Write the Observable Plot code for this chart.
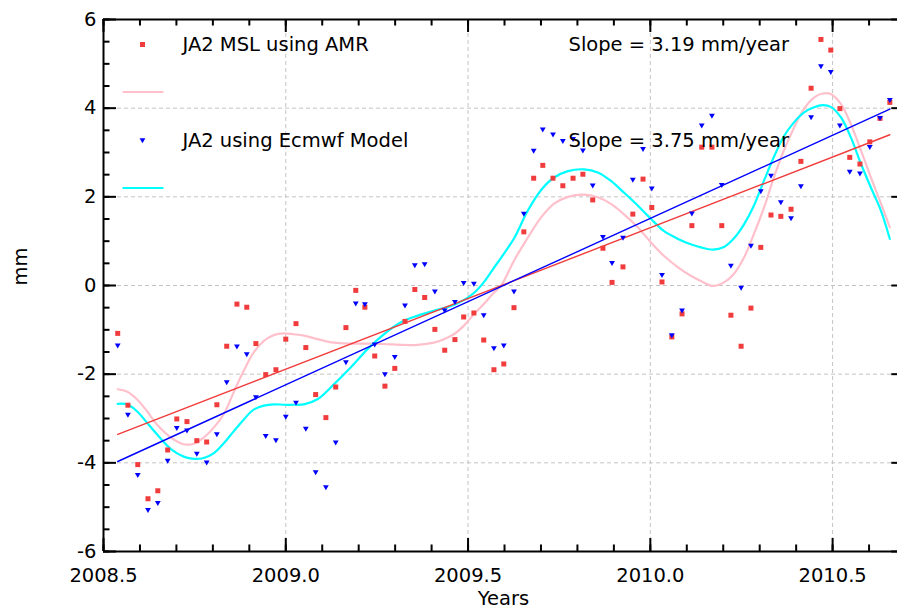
<!DOCTYPE html>
<html>
<head>
<meta charset="utf-8">
<script src="https://cdn.jsdelivr.net/npm/d3@7"></script>
<script src="https://cdn.jsdelivr.net/npm/@observablehq/plot@0.6"></script>
<style>
  html, body { margin: 0; padding: 0; background: white; }
  #chart svg { display: block; }
</style>
</head>
<body>
<div id="chart"></div>
<script>
// ---- data ----
const cycleYears = [2008.539, 2008.567, 2008.594, 2008.622, 2008.649, 2008.676, 2008.701, 2008.729, 2008.756, 2008.783,
  2008.811, 2008.838, 2008.866, 2008.893, 2008.918, 2008.945, 2008.973, 2009.000, 2009.028, 2009.055,
  2009.082, 2009.110, 2009.137, 2009.165, 2009.192, 2009.217, 2009.244, 2009.272, 2009.299, 2009.327,
  2009.354, 2009.381, 2009.409, 2009.436, 2009.464, 2009.488, 2009.516, 2009.543, 2009.571, 2009.598,
  2009.626, 2009.653, 2009.680, 2009.705, 2009.733, 2009.760, 2009.788, 2009.815, 2009.842, 2009.870,
  2009.895, 2009.925, 2009.952, 2009.980, 2010.004, 2010.032, 2010.059, 2010.087, 2010.114, 2010.141,
  2010.169, 2010.196, 2010.221, 2010.249, 2010.276, 2010.303, 2010.331, 2010.358, 2010.386, 2010.413,
  2010.441, 2010.468, 2010.495, 2010.520, 2010.547, 2010.575, 2010.602, 2010.630, 2010.657];

const amrValues = [-1.08, -2.70, -4.04, -4.81, -4.63, -3.71, -3.01, -3.07, -3.50, -3.53,
  -2.69, -1.37, -0.42, -0.49, -1.31, -2.01, -1.90, -1.21, -0.86, -1.40,
  -2.46, -2.98, -2.29, -0.95, -0.11, -0.49, -1.59, -2.27, -1.87, -0.81,
  -0.09, -0.27, -0.99, -1.46, -1.22, -0.71, -0.62, -1.23, -1.90, -1.77,
  -0.50, 1.21, 2.42, 2.71, 2.42, 2.25, 2.42, 2.51, 1.93, 0.84,
  0.07, 0.42, 1.61, 2.40, 1.76, 0.08, -1.16, -0.64, 1.35, 3.12,
  3.12, 1.35, -0.67, -1.37, -0.51, 0.86, 1.59, 1.56, 1.72, 2.80,
  4.45, 5.55, 5.31, 3.99, 2.89, 2.74, 3.24, 3.77, 4.13];

const ecmwfValues = [-1.36, -2.92, -4.28, -5.07, -4.91, -3.96, -3.22, -3.28, -3.80, -4.00,
  -3.36, -2.19, -1.38, -1.56, -2.53, -3.40, -3.50, -2.97, -2.65, -3.24,
  -4.22, -4.56, -3.55, -1.74, -0.41, -0.43, -1.34, -2.01, -1.62, -0.46,
  0.45, 0.47, -0.14, -0.57, -0.38, 0.05, 0.03, -0.68, -1.42, -1.36,
  -0.14, 1.61, 3.03, 3.51, 3.40, 3.25, 3.30, 3.04, 2.25, 1.09,
  0.50, 1.07, 2.38, 3.07, 2.18, 0.23, -1.13, -0.57, 1.62, 3.60,
  3.82, 2.26, 0.44, -0.06, 0.89, 2.12, 2.47, 1.87, 1.51, 2.23,
  3.79, 4.94, 4.81, 3.60, 2.56, 2.52, 3.12, 3.77, 4.18];

const smoothYears = [2008.539, 2008.564, 2008.591, 2008.619, 2008.646, 2008.685, 2008.720, 2008.748, 2008.775, 2008.803,
  2008.830, 2008.857, 2008.885, 2008.912, 2008.940, 2008.967, 2008.995, 2009.022, 2009.050, 2009.088,
  2009.132, 2009.178, 2009.225, 2009.269, 2009.316, 2009.362, 2009.406, 2009.434, 2009.461, 2009.488,
  2009.516, 2009.543, 2009.571, 2009.590, 2009.626, 2009.664, 2009.700, 2009.735, 2009.774, 2009.818,
  2009.856, 2009.892, 2009.927, 2009.966, 2010.002, 2010.037, 2010.076, 2010.111, 2010.139, 2010.172,
  2010.202, 2010.229, 2010.257, 2010.284, 2010.312, 2010.339, 2010.366, 2010.394, 2010.421, 2010.449,
  2010.473, 2010.495, 2010.523, 2010.550, 2010.578, 2010.605, 2010.633, 2010.657];

const amrSmooth = [-2.34, -2.39, -2.56, -2.83, -3.13, -3.43, -3.58, -3.57, -3.43, -3.20,
  -2.90, -2.41, -1.92, -1.51, -1.25, -1.12, -1.08, -1.10, -1.13, -1.21,
  -1.29, -1.31, -1.31, -1.32, -1.34, -1.34, -1.29, -1.21, -1.10, -0.91,
  -0.65, -0.42, -0.16, -0.01, 0.56, 1.08, 1.53, 1.84, 2.00, 2.05,
  1.99, 1.84, 1.61, 1.31, 0.97, 0.67, 0.41, 0.22, 0.10, -0.01,
  0.07, 0.26, 0.63, 1.16, 1.76, 2.44, 3.04, 3.56, 3.98, 4.24,
  4.33, 4.32, 4.09, 3.64, 3.04, 2.44, 1.84, 1.31];

const ecmwfSmooth = [-2.67, -2.68, -2.83, -3.09, -3.35, -3.69, -3.86, -3.91, -3.89, -3.78,
  -3.56, -3.29, -3.02, -2.80, -2.71, -2.68, -2.69, -2.69, -2.68, -2.56,
  -2.23, -1.85, -1.43, -1.10, -0.83, -0.68, -0.57, -0.51, -0.44, -0.33,
  -0.17, 0.07, 0.40, 0.62, 1.06, 1.69, 2.15, 2.43, 2.58, 2.62,
  2.55, 2.36, 2.10, 1.80, 1.50, 1.23, 1.05, 0.93, 0.86, 0.81,
  0.87, 1.06, 1.38, 1.80, 2.37, 2.90, 3.36, 3.68, 3.90, 4.02,
  4.07, 4.03, 3.79, 3.34, 2.74, 2.21, 1.68, 1.05];

const trendYears = [2008.539, 2010.657];
const amrTrend = [-3.36, 3.40];
const ecmwfTrend = [-3.97, 3.98];

const seriesNames = ["JA2 MSL using AMR", "JA2 using Ecmwf Model"];
const slopeLabels = ["Slope = 3.19 mm/year", "Slope = 3.75 mm/year"];
const xTicks = [2008.5, 2009.0, 2009.5, 2010.0, 2010.5];
const yTicks = [-6, -4, -2, 0, 2, 4, 6];
const xLabel = "Years";
const yLabel = "mm";

// ---- tables ----
const points = cycleYears.map((t, i) => ({t, amr: amrValues[i], ecmwf: ecmwfValues[i]}));
const smooth = smoothYears.map((t, i) => ({t, amr: amrSmooth[i], ecmwf: ecmwfSmooth[i]}));
const trends = trendYears.map((t, i) => ({t, amr: amrTrend[i], ecmwf: ecmwfTrend[i]}));

const xMinor = d3.range(2008.5, 2010.65, 0.1).map(v => +v.toFixed(2));
const yMinor = d3.range(-6, 6.01, 0.5);

const X0 = 2008.5, XR = 2010.698;           // left frame / right frame (just outside the picture)
const tickYMaj = 0.293, tickYMin = 0.147;    // tick lengths in mm
const tickXMaj = 0.0357, tickXMin = 0.0178;  // tick lengths in years

const RED = "#f03c3c", BLUE = "#0000ff", PINK = "#ffc0cb", CYAN = "#00ffff";
const FS = 19.5;

const squareSym = {draw(ctx) { ctx.rect(-2.5, -2.5, 5, 5); }};
const triDownSym = {draw(ctx) { ctx.moveTo(-2.9, -2.3); ctx.lineTo(2.9, -2.3); ctx.lineTo(0, 2.7); ctx.closePath(); }};
const segSym = {draw(ctx) { ctx.moveTo(-20.5, 0); ctx.lineTo(20.5, 0); }};

const chart = Plot.plot({
  width: 897,
  height: 609,
  marginLeft: 103,
  marginRight: 0,
  marginTop: 19,
  marginBottom: 58,
  x: {domain: [2008.5, 2010.678], axis: null},
  y: {domain: [-6, 6], axis: null},
  style: {fontFamily: "'DejaVu Sans', sans-serif", fontSize: FS + "px", background: "white", color: "black", overflow: "visible"},
  marks: [
    // grid
    Plot.ruleX(xTicks.slice(1), {stroke: "#c4c4c4", strokeWidth: 1, strokeDasharray: "4,3"}),
    Plot.ruleY(yTicks.slice(1, -1), {stroke: "#c4c4c4", strokeWidth: 1, strokeDasharray: "4,3"}),
    // smooth curves
    Plot.line(smooth, {x: "t", y: "amr", stroke: PINK, strokeWidth: 2.2, curve: "catmull-rom"}),
    Plot.line(smooth, {x: "t", y: "ecmwf", stroke: CYAN, strokeWidth: 2.2, curve: "catmull-rom"}),
    // trend lines
    Plot.line(trends, {x: "t", y: "amr", stroke: RED, strokeWidth: 1.4}),
    Plot.line(trends, {x: "t", y: "ecmwf", stroke: BLUE, strokeWidth: 1.4}),
    // points
    Plot.dot(points, {x: "t", y: "amr", symbol: squareSym, fill: RED, stroke: "none"}),
    Plot.dot(points, {x: "t", y: "ecmwf", symbol: triDownSym, fill: BLUE, stroke: "none"}),
    // frame
    Plot.ruleX([X0], {stroke: "black", strokeWidth: 2}),
    Plot.ruleY([-6, 6], {stroke: "black", strokeWidth: 2}),
    // ticks bottom / top
    Plot.ruleX(xMinor, {x: d => d, y1: -6, y2: -6 + tickYMin, stroke: "black", strokeWidth: 2}),
    Plot.ruleX(xTicks, {x: d => d, y1: -6, y2: -6 + tickYMaj, stroke: "black", strokeWidth: 2}),
    Plot.ruleX(xMinor, {x: d => d, y1: 6, y2: 6 - tickYMin, stroke: "black", strokeWidth: 2}),
    Plot.ruleX(xTicks, {x: d => d, y1: 6, y2: 6 - tickYMaj, stroke: "black", strokeWidth: 2}),
    // ticks left / right
    Plot.ruleY(yMinor, {y: d => d, x1: X0, x2: X0 + tickXMin, stroke: "black", strokeWidth: 2}),
    Plot.ruleY(yTicks, {y: d => d, x1: X0, x2: X0 + tickXMaj, stroke: "black", strokeWidth: 2}),
    Plot.ruleY(yTicks, {y: d => d, x1: XR, x2: XR - tickXMaj, stroke: "black", strokeWidth: 2}),
    // tick labels
    Plot.text(xTicks, {x: d => d, y: -6, dy: 24, text: d => d.toFixed(1), fontSize: FS, fill: "black"}),
    Plot.text(yTicks, {x: X0, y: d => d, dx: -7, text: d => String(d), textAnchor: "end", fontSize: FS, fill: "black"}),
    // axis titles
    Plot.text([yLabel], {frameAnchor: "left", dx: -83, rotate: -90, lineAnchor: "middle", fontSize: FS, fill: "black"}),
    Plot.text([xLabel], {frameAnchor: "bottom", dx: 3, dy: 47, lineAnchor: "middle", fontSize: FS, fill: "black"}),
    // legend
    Plot.dot([0], {frameAnchor: "top-left", dx: 39, dy: 25, symbol: squareSym, fill: RED, stroke: "none"}),
    Plot.dot([0], {frameAnchor: "top-left", dx: 39.5, dy: 72.5, symbol: segSym, fill: "none", stroke: PINK, strokeWidth: 2}),
    Plot.dot([0], {frameAnchor: "top-left", dx: 39, dy: 121, symbol: triDownSym, fill: BLUE, stroke: "none"}),
    Plot.dot([0], {frameAnchor: "top-left", dx: 39.5, dy: 168.5, symbol: segSym, fill: "none", stroke: CYAN, strokeWidth: 2}),
    Plot.text([seriesNames[0]], {frameAnchor: "top-left", dx: 79, dy: 25, textAnchor: "start", lineAnchor: "middle", fontSize: FS, fill: "black"}),
    Plot.text([seriesNames[1]], {frameAnchor: "top-left", dx: 79, dy: 121, textAnchor: "start", lineAnchor: "middle", fontSize: FS, fill: "black"}),
    Plot.text([slopeLabels[0]], {frameAnchor: "top-left", dx: 465, dy: 25, textAnchor: "start", lineAnchor: "middle", fontSize: FS, fill: "black"}),
    Plot.text([slopeLabels[1]], {frameAnchor: "top-left", dx: 465, dy: 121, textAnchor: "start", lineAnchor: "middle", fontSize: FS, fill: "black"})
  ]
});
document.getElementById("chart").appendChild(chart);
</script>
</body>
</html>
